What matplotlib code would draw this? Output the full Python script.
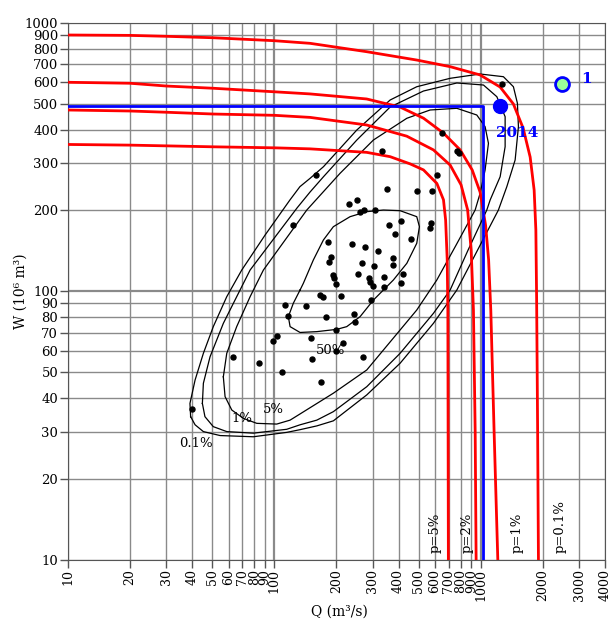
import matplotlib
matplotlib.use("Agg")
import matplotlib.pyplot as plt

plt.rcParams['font.family'] = ['DejaVu Serif']

# Ticks
x_ticks = [10, 20, 30, 40, 50, 60, 70, 80, 90, 100, 200, 300, 400, 500, 600, 700, 800, 900, 1000, 2000, 3000, 4000]
y_ticks = [10, 20, 30, 40, 50, 60, 70, 80, 90, 100, 200, 300, 400, 500, 600, 700, 800, 900, 1000]

# Observed (Q, W) pairs
q_obs = [159, 353, 490, 583, 617, 231, 252, 261, 272, 307, 360, 413, 386, 460, 575, 568,
         182, 239, 275, 319, 188, 184, 266, 303, 377, 376, 192, 195, 255, 286, 291, 301,
         341, 422, 410, 341, 198, 166, 172, 210, 295, 143, 123, 112, 116, 177, 244, 245,
         199, 150, 214, 103, 99, 63, 84, 153, 198, 270, 109, 169, 40, 1266, 650, 770, 784, 334]
w_obs = [270, 240, 236, 237, 272, 211, 219, 197, 201, 201, 177, 183, 164, 157, 179, 172,
         152, 150, 146, 141, 134, 128, 127, 124, 133, 125, 115, 112, 116, 112, 108, 105,
         113, 116, 107, 104, 106, 97, 95, 96, 93, 88, 176, 89, 81, 80, 82, 77,
         72, 67, 64, 68, 65, 57, 54, 56, 60, 57, 50, 46, 36.5, 591, 389, 334, 328, 332]

# Joint probability isolines (red)
q_p01 = [10, 20, 30, 50.6, 100, 149, 280, 490, 711, 993, 1242, 1440, 1605, 1736, 1815, 1850, 1866, 1887, 1904]
w_p01 = [900, 897, 890, 879, 857, 838, 780, 726, 686, 639, 576, 498, 405, 316, 238, 169, 93, 30, 10]
q_p1 = [10, 20, 30, 50.6, 100, 149, 280, 407, 528, 660, 795, 909, 993, 1056, 1092, 1119, 1161, 1210]
w_p1 = [600, 595, 581, 570, 553, 543, 520, 485, 441, 388, 336, 283, 234, 176, 131, 85, 30, 10]
q_p2 = [10, 20, 30, 50.6, 100, 149, 280, 438, 590, 711, 803, 864, 899, 922, 940, 950]
w_p2 = [473, 469, 464, 457, 452, 444, 416, 378, 336, 295, 249, 201, 142, 85, 30, 10]
q_p5 = [10, 20, 50.6, 100, 149, 280, 364, 455, 528, 613, 660, 676, 688, 693, 695, 697]
w_p5 = [352, 350, 345, 342, 339, 329, 317, 298, 283, 252, 219, 184, 131, 85, 30, 10]

# Density contours (black)
q_c01 = [39.3, 41.3, 45.3, 54.6, 79.1, 114.8, 133.2, 160.6, 193.2, 280.5, 406.7, 589.8, 765.9, 966,
         1218, 1338, 1468, 1523, 1506, 1440, 1288, 993, 711, 490, 364, 251, 173, 149, 133, 119,
         90.2, 69.5, 58.8, 50.6, 45.3, 41.3, 39.0, 39.3]
w_c01 = [34.1, 31.8, 30.0, 29.0, 28.7, 29.8, 30.5, 31.5, 32.9, 41.1, 53.9, 75.9, 101, 142.4,
         200.6, 245.1, 308.1, 410, 501, 577.6, 629.4, 644.2, 620.8, 577.6, 515.4, 398.5, 290.9, 263.3, 245.1, 218.7,
         161.9, 119.9, 95.4, 73.8, 58.7, 46.7, 38.2, 34.1]
q_c1 = [44.8, 46.1, 50.6, 58.8, 79.1, 114.8, 133.2, 160.6, 193.2, 280.5, 406.7, 589.8, 710.8, 868.7,
        1070, 1111, 1242, 1313, 1313, 1197, 1031, 766, 528, 364, 251, 173, 149, 128.8,
        76.3, 65.7, 56.6, 48.8, 45.3, 44.8]
w_c1 = [38.2, 34.1, 31.3, 30.0, 29.6, 30.6, 31.8, 33.1, 35.6, 44.1, 58.7, 82.7, 101, 142.4,
        200.6, 218.7, 266.9, 345.3, 446.7, 530.2, 586.1, 596.4, 556.7, 485.3, 365.7, 266.9, 234.2, 204.2,
        119.9, 95.4, 75.9, 57.0, 45.4, 38.2]
q_c5 = [56.6, 57.7, 62.2, 70.8, 82.2, 102.7, 119.2, 133.2, 193.2, 280.5, 406.7, 489.8, 612.7, 760,
        939.6, 993.3, 1050, 1090, 1050, 957, 766, 568.5, 438.4, 302, 208.2, 143.6, 88.5, 76.3,
        65.7, 58.8, 56.6]
w_c5 = [48.0, 40.5, 36.1, 33.6, 32.2, 32.0, 33.1, 34.9, 41.7, 50.9, 71.7, 85.1, 110.1, 148.6,
        200.6, 231.6, 282.8, 355.5, 410, 453.2, 480, 473.1, 440.6, 365.7, 274.9, 200.6, 119.9, 95.4,
        73.8, 58.7, 48.0]
q_c50 = [133.2, 138.2, 154.5, 172.8, 193.2, 232.8, 280.5, 337.6, 406.7, 489.8, 504.6, 489.8, 438.4,
         377.4, 325.4, 302, 260.3, 224.3, 200.7, 160.6, 133.2, 119.2, 116.9, 123.6, 133.2]
w_c50 = [101, 107, 130.7, 155.1, 173.9, 189.5, 197.8, 200.6, 199.5, 189.5, 173.9, 150.8, 127,
         110.1, 98.2, 92.7, 80.4, 73.8, 72.1, 70.7, 70.2, 73.8, 80.4, 90.2, 101]

# Design point and event
q_design, w_design = 1030, 490
q_2014, w_2014 = 1240, 490
q_event1, w_event1 = 2473, 591

fig = plt.figure(figsize=(6.14, 6.19), dpi=100)
ax = fig.add_axes([0.1107, 0.0958, 0.8746, 0.8675])
ax.set_xscale('log')
ax.set_yscale('log')
ax.set_xlim(10, 4000)
ax.set_ylim(10, 1000)

# grid
for t in x_ticks:
    ax.axvline(t, color='#8a8a8a', lw=1.6 if t in (100, 1000) else 1.0, zorder=0)
for t in y_ticks:
    ax.axhline(t, color='#8a8a8a', lw=1.6 if t in (100, 1000) else 1.0, zorder=0)

ax.set_xticks(x_ticks)
ax.set_xticklabels([str(t) for t in x_ticks], rotation=90, fontsize=9)
ax.set_yticks(y_ticks)
ax.set_yticklabels([str(t) for t in y_ticks], fontsize=9.5)
ax.minorticks_off()
ax.tick_params(length=6, width=1, color='#555555', pad=1)
for s in ax.spines.values():
    s.set_color('#555555')

# contours
for qc, wc in [(q_c01, w_c01), (q_c1, w_c1), (q_c5, w_c5), (q_c50, w_c50)]:
    ax.plot(qc, wc, color='black', lw=0.9, zorder=3)

# red isolines
for qp, wp in [(q_p01, w_p01), (q_p1, w_p1), (q_p2, w_p2), (q_p5, w_p5)]:
    ax.plot(qp, wp, color='#ff0000', lw=2.0, zorder=4)

# blue design lines
ax.plot([10, q_design, q_design], [w_design, w_design, 10], color='#0000ff', lw=2.0, zorder=5)

ax.plot(q_obs, w_obs, 'o', color='black', markersize=3.6, zorder=6)
ax.plot(q_2014, w_2014, 'o', color='#0000ff', markersize=10, zorder=7)
ax.plot(q_event1, w_event1, 'o', markerfacecolor='#99ff99', markeredgecolor='#0000ff',
        markeredgewidth=2, markersize=10, zorder=7)
ax.text(1510, 388, '2014', color='#0000ff', fontsize=11, fontweight='bold', ha='center', va='center', zorder=8)
ax.text(3243, 617, '1', color='#0000ff', fontsize=11, fontweight='bold', ha='center', va='center', zorder=8)

# contour labels
ax.text(41.7, 27.0, '0.1%', fontsize=9.5, ha='center', va='center', zorder=8)
ax.text(69.7, 33.7, '1%', fontsize=9.5, ha='center', va='center', zorder=8)
ax.text(98.6, 36.4, '5%', fontsize=9.5, ha='center', va='center', zorder=8)
ax.text(188, 59.9, '50%', fontsize=9.5, ha='center', va='center', zorder=8)

# isoline labels
for qx, lab in [(601, 'p=5%'), (856, 'p=2%'), (1496, 'p=1%'), (2427, 'p=0.1%')]:
    ax.text(qx, 10.6, lab, fontsize=9.5, rotation=90, ha='center', va='bottom', zorder=8)

ax.set_xlabel('Q (m³/s)', fontsize=10)
ax.set_ylabel('W (10⁶ m³)', fontsize=10)
ax.xaxis.set_label_coords(0.505, -0.083)
ax.yaxis.set_label_coords(-0.075, 0.5)

fig.savefig('out.png', dpi=100)
